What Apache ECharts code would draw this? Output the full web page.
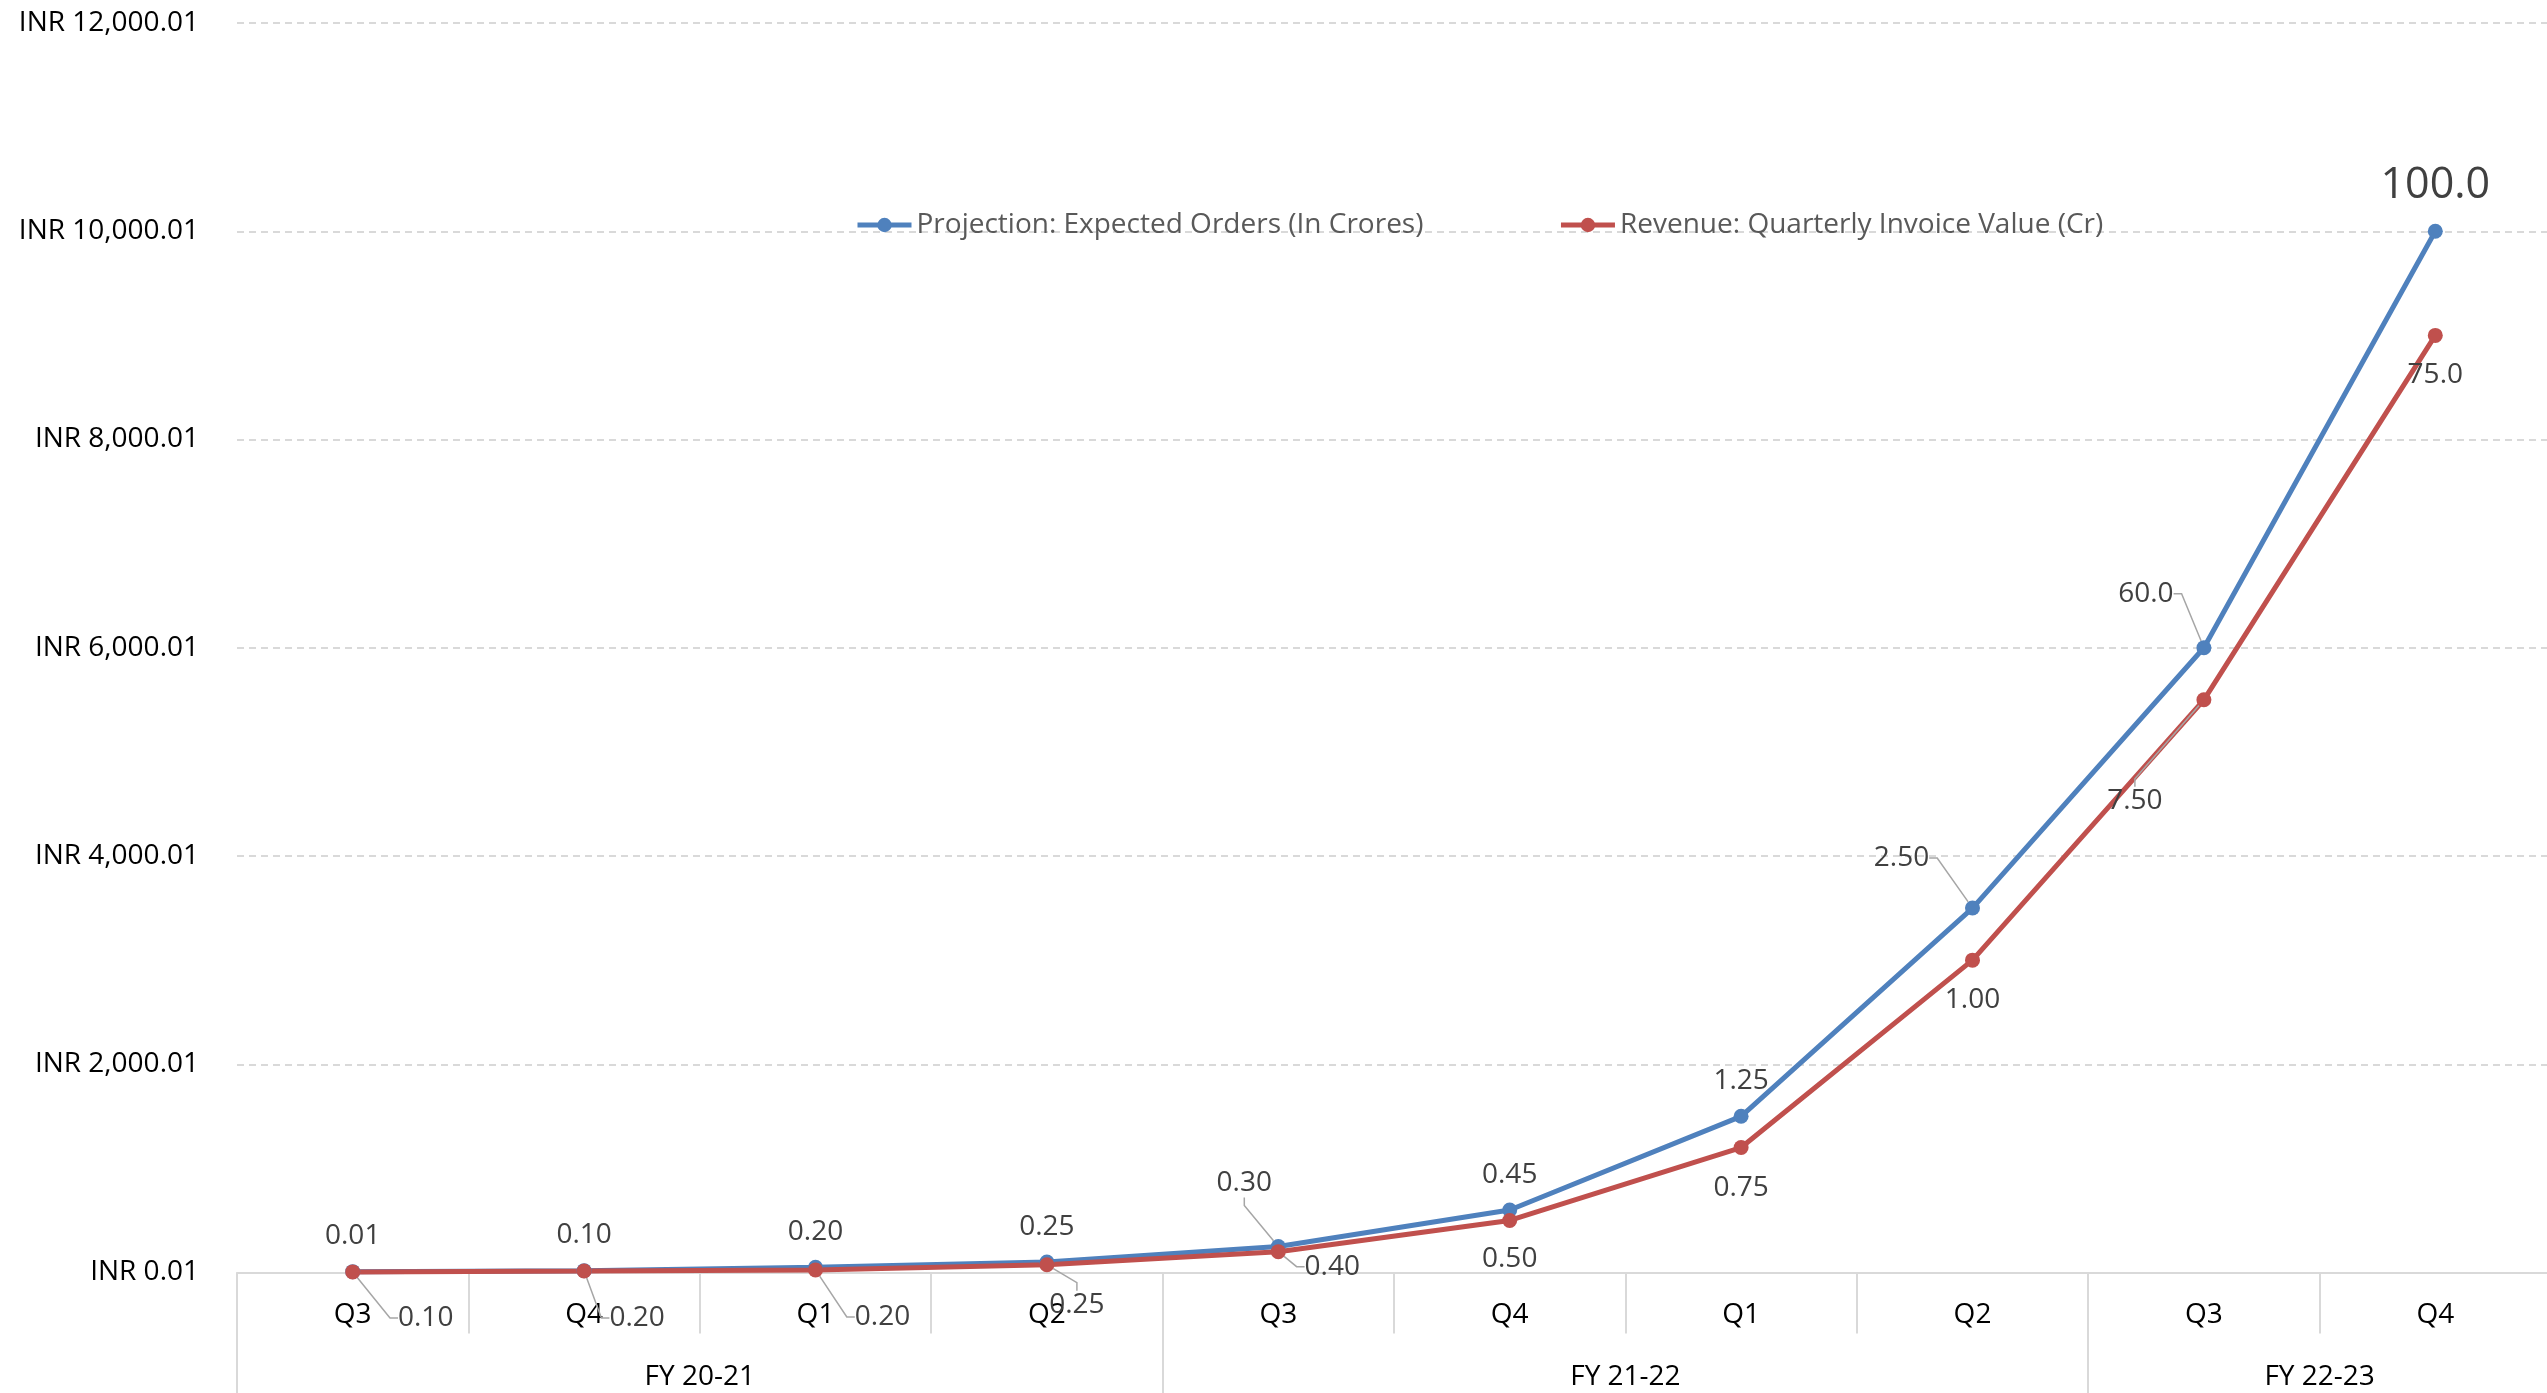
<!DOCTYPE html>
<html>
<head>
<meta charset="utf-8">
<style>
html,body{margin:0;padding:0;background:#ffffff;}
#chart{width:2547px;height:1393px;}
</style>
<script src="https://cdn.jsdelivr.net/npm/echarts@6/dist/echarts.min.js"></script>
</head>
<body>
<div id="chart"></div>
<script>
// ---- data ----
const quarters = ['Q3', 'Q4', 'Q1', 'Q2', 'Q3', 'Q4', 'Q1', 'Q2', 'Q3', 'Q4'];
const fiscalYears = ['FY 20-21', 'FY 21-22', 'FY 22-23'];
const fiscalYearSpans = [4, 4, 2];
const projectionValues = [8, 18, 50, 100, 250, 600, 1500, 3500, 6000, 10000];
const revenueValues = [6, 14, 25, 75, 200, 500, 1200, 3000, 5500, 9000];
const projectionLabels = ['0.01', '0.10', '0.20', '0.25', '0.30', '0.45', '1.25', '2.50', '60.0', '100.0'];
const revenueLabels = ['0.10', '0.20', '0.20', '0.25', '0.40', '0.50', '0.75', '1.00', '7.50', '75.0'];
const yTickLabels = ['INR 0.01', 'INR 2,000.01', 'INR 4,000.01', 'INR 6,000.01', 'INR 8,000.01', 'INR 10,000.01', 'INR 12,000.01'];

// ---- styling (label placement offsets relative to each point, leader-line flags) ----
const projectionLabelOffsets = [[0,-36],[0,-36],[0,-35],[0,-35],[-34,-63],[0,-35],[0,-35],[-71,-50],[-58,-54],[0,-46]];
const projectionLeader = [false,false,false,false,true,false,false,true,true,false];
const revenueLabelOffsets = [[73,46],[53,47],[67,47],[30,40],[54,15],[0,39],[0,40],[0,40],[-69,101],[0,40]];
const revenueLeader = [true,true,true,true,true,false,false,false,true,false];

const FONT = '"Open Sans", "Noto Sans", sans-serif';
const BLUE = '#4F81BD';
const RED = '#C0504D';
const GRID_GRAY = '#d9d9d9';

// group boundaries and centres derived from spans
const fyBounds = [0];
fiscalYearSpans.forEach(s => fyBounds.push(fyBounds[fyBounds.length - 1] + s));
const fyCenters = fiscalYearSpans.map((s, i) => fyBounds[i] + s / 2);

function buildData(values, leaders, bigIndex) {
  return values.map((v, i) => {
    const item = { value: v, labelLine: { show: leaders[i] } };
    if (i === bigIndex) item.label = { fontSize: 43 };
    return item;
  });
}

const chart = echarts.init(document.getElementById('chart'), null, { renderer: 'canvas' });
chart.setOption({
  animation: false,
  backgroundColor: '#ffffff',
  grid: { left: 237, right: -4, top: 23, bottom: 120.5, containLabel: false, outerBoundsMode: 'none' },
  legend: {
    left: 850, top: 206,
    itemWidth: 54, itemHeight: 18, itemGap: 135,
    lineStyle: { width: 5 },
    textStyle: { fontFamily: FONT, fontSize: 28, color: '#595959' },
    data: ['Projection: Expected Orders (In Crores)', 'Revenue: Quarterly Invoice Value (Cr)']
  },
  xAxis: [
    {
      type: 'category', data: quarters, position: 'bottom', boundaryGap: true,
      axisLine: { show: true, lineStyle: { color: GRID_GRAY, width: 2 } },
      axisTick: { show: true, interval: 0, length: 61, lineStyle: { color: GRID_GRAY, width: 2 } },
      axisLabel: { interval: 0, margin: 29, fontFamily: FONT, fontSize: 28, color: '#000000' },
      splitLine: { show: false }
    },
    {
      type: 'value', min: 0, max: quarters.length, position: 'bottom',
      axisLine: { show: false },
      axisTick: { show: true, length: 121, customValues: fyBounds, lineStyle: { color: GRID_GRAY, width: 2 } },
      axisLabel: {
        margin: 91, customValues: fyCenters, fontFamily: FONT, fontSize: 28, color: '#000000',
        formatter: v => fiscalYears[fyCenters.indexOf(v)] || ''
      },
      splitLine: { show: false }
    }
  ],
  yAxis: {
    type: 'value', min: 0, max: 12000, interval: 2000,
    axisLine: { show: false }, axisTick: { show: false },
    splitLine: { show: true, lineStyle: { color: GRID_GRAY, width: 2, type: [7, 5] } },
    axisLabel: {
      margin: 38, fontFamily: FONT, fontSize: 28, color: '#000000',
      formatter: v => yTickLabels[Math.round(v / 2000)]
    }
  },
  series: [
    {
      name: 'Projection: Expected Orders (In Crores)', type: 'line',
      data: buildData(projectionValues, projectionLeader, 9),
      symbol: 'circle', symbolSize: 15,
      lineStyle: { width: 5, color: BLUE }, itemStyle: { color: BLUE },
      label: {
        show: true, position: 'inside', fontFamily: FONT, fontSize: 28, color: '#404040',
        formatter: p => projectionLabels[p.dataIndex]
      },
      labelLine: { show: false, length2: 8, lineStyle: { color: '#a6a6a6', width: 1.5 } },
      labelLayout: p => ({ dx: projectionLabelOffsets[p.dataIndex][0], dy: projectionLabelOffsets[p.dataIndex][1] }),
      emphasis: { disabled: true }
    },
    {
      name: 'Revenue: Quarterly Invoice Value (Cr)', type: 'line',
      data: buildData(revenueValues, revenueLeader, -1),
      symbol: 'circle', symbolSize: 15,
      lineStyle: { width: 5, color: RED }, itemStyle: { color: RED },
      label: {
        show: true, position: 'inside', fontFamily: FONT, fontSize: 28, color: '#404040',
        formatter: p => revenueLabels[p.dataIndex]
      },
      labelLine: { show: false, length2: 8, lineStyle: { color: '#a6a6a6', width: 1.5 } },
      labelLayout: p => ({ dx: revenueLabelOffsets[p.dataIndex][0], dy: revenueLabelOffsets[p.dataIndex][1] }),
      emphasis: { disabled: true }
    }
  ]
});
</script>
</body>
</html>
